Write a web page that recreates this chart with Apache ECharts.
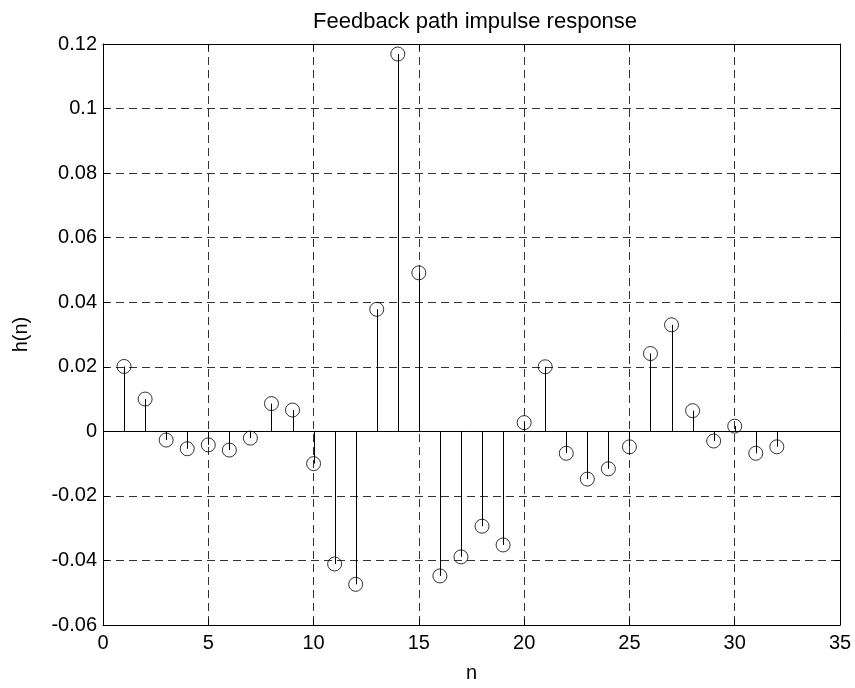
<!DOCTYPE html>
<html>
<head>
<meta charset="utf-8">
<title>Feedback path impulse response</title>
<script src="https://cdn.jsdelivr.net/npm/echarts@6/dist/echarts.min.js"></script>
<style>
  html, body { margin: 0; padding: 0; background: #fff; }
  #chart { width: 855px; height: 688px; }
</style>
</head>
<body>
<div id="chart"></div>
<script>
// Sample index n and feedback-path impulse response h(n)
const sampleIndex = [1, 2, 3, 4, 5, 6, 7, 8, 9, 10, 11, 12, 13, 14, 15, 16,
                     17, 18, 19, 20, 21, 22, 23, 24, 25, 26, 27, 28, 29, 30, 31, 32];
const responseValues = [0.0201, 0.0100, -0.0027, -0.0054, -0.0042, -0.0058, -0.0021, 0.0086,
                        0.0066, -0.0100, -0.0411, -0.0474, 0.0378, 0.1169, 0.0491, -0.0448,
                        -0.0389, -0.0294, -0.0352, 0.0027, 0.0200, -0.0068, -0.0148, -0.0116,
                        -0.0048, 0.0241, 0.0330, 0.0064, -0.0030, 0.0016, -0.0068, -0.0048];

const xTicks = { min: 0, max: 35, step: 5 };
const yTicks = { min: -0.06, max: 0.12, step: 0.02 };

const points = sampleIndex.map((n, i) => [n, responseValues[i]]);

const FONT = '"Liberation Sans", Arial, Helvetica, sans-serif';
const gridDash = { color: '#333', width: 1, type: [8, 5] };
const boxLine = { show: true, onZero: false, lineStyle: { color: '#000', width: 1 } };
const innerTick = { show: true, inside: true, length: 6, lineStyle: { color: '#000', width: 1 } };

const chart = echarts.init(document.getElementById('chart'), null, { renderer: 'canvas' });

chart.setOption({
  backgroundColor: '#fff',
  animation: false,
  title: {
    text: 'Feedback path impulse response',
    left: 308,
    top: 6,
    textStyle: { fontFamily: FONT, fontSize: 22, fontWeight: 'normal', color: '#000' }
  },
  grid: { left: 103, right: 15, top: 44, bottom: 60, containLabel: false },
  xAxis: [
    {
      type: 'value', position: 'bottom',
      min: xTicks.min, max: xTicks.max, interval: xTicks.step,
      name: 'n', nameLocation: 'middle', nameGap: 38,
      nameTextStyle: { fontFamily: FONT, fontSize: 20, color: '#000' },
      axisLine: boxLine, axisTick: innerTick,
      axisLabel: { fontFamily: FONT, fontSize: 20, color: '#000', margin: 8 },
      splitLine: { show: true, lineStyle: gridDash }
    },
    {
      type: 'value', position: 'top',
      min: xTicks.min, max: xTicks.max, interval: xTicks.step,
      axisLine: boxLine, axisTick: innerTick,
      axisLabel: { show: false }, splitLine: { show: false }
    }
  ],
  yAxis: [
    {
      type: 'value', position: 'left',
      min: yTicks.min, max: yTicks.max, interval: yTicks.step,
      name: 'h(n)', nameLocation: 'middle', nameGap: 72,
      nameTextStyle: { fontFamily: FONT, fontSize: 20, color: '#000' },
      axisLine: boxLine, axisTick: innerTick,
      axisLabel: {
        fontFamily: FONT, fontSize: 20, color: '#000', margin: 6,
        formatter: v => String(+v.toFixed(2))
      },
      splitLine: { show: true, lineStyle: gridDash }
    },
    {
      type: 'value', position: 'right',
      min: yTicks.min, max: yTicks.max, interval: yTicks.step,
      axisLine: boxLine, axisTick: innerTick,
      axisLabel: { show: false }, splitLine: { show: false }
    }
  ],
  series: [
    {
      // stems from the zero baseline up/down to each sample
      type: 'custom',
      data: points,
      z: 3,
      renderItem: function (params, api) {
        const base = api.coord([api.value(0), 0]);
        const tip = api.coord([api.value(0), api.value(1)]);
        const x = Math.round(base[0]) + 0.5;
        return {
          type: 'line',
          shape: { x1: x, y1: base[1], x2: x, y2: tip[1] },
          style: { stroke: '#000', lineWidth: 1 }
        };
      },
      markLine: {
        silent: true,
        symbol: 'none',
        label: { show: false },
        lineStyle: { color: '#000', width: 1, type: 'solid' },
        data: [{ yAxis: 0 }]
      }
    },
    {
      // open circle markers at each sample value
      type: 'scatter',
      data: points,
      z: 4,
      symbol: 'circle',
      symbolSize: 14,
      itemStyle: { color: 'rgba(0,0,0,0)', borderColor: '#000', borderWidth: 1 }
    }
  ]
});
</script>
</body>
</html>
